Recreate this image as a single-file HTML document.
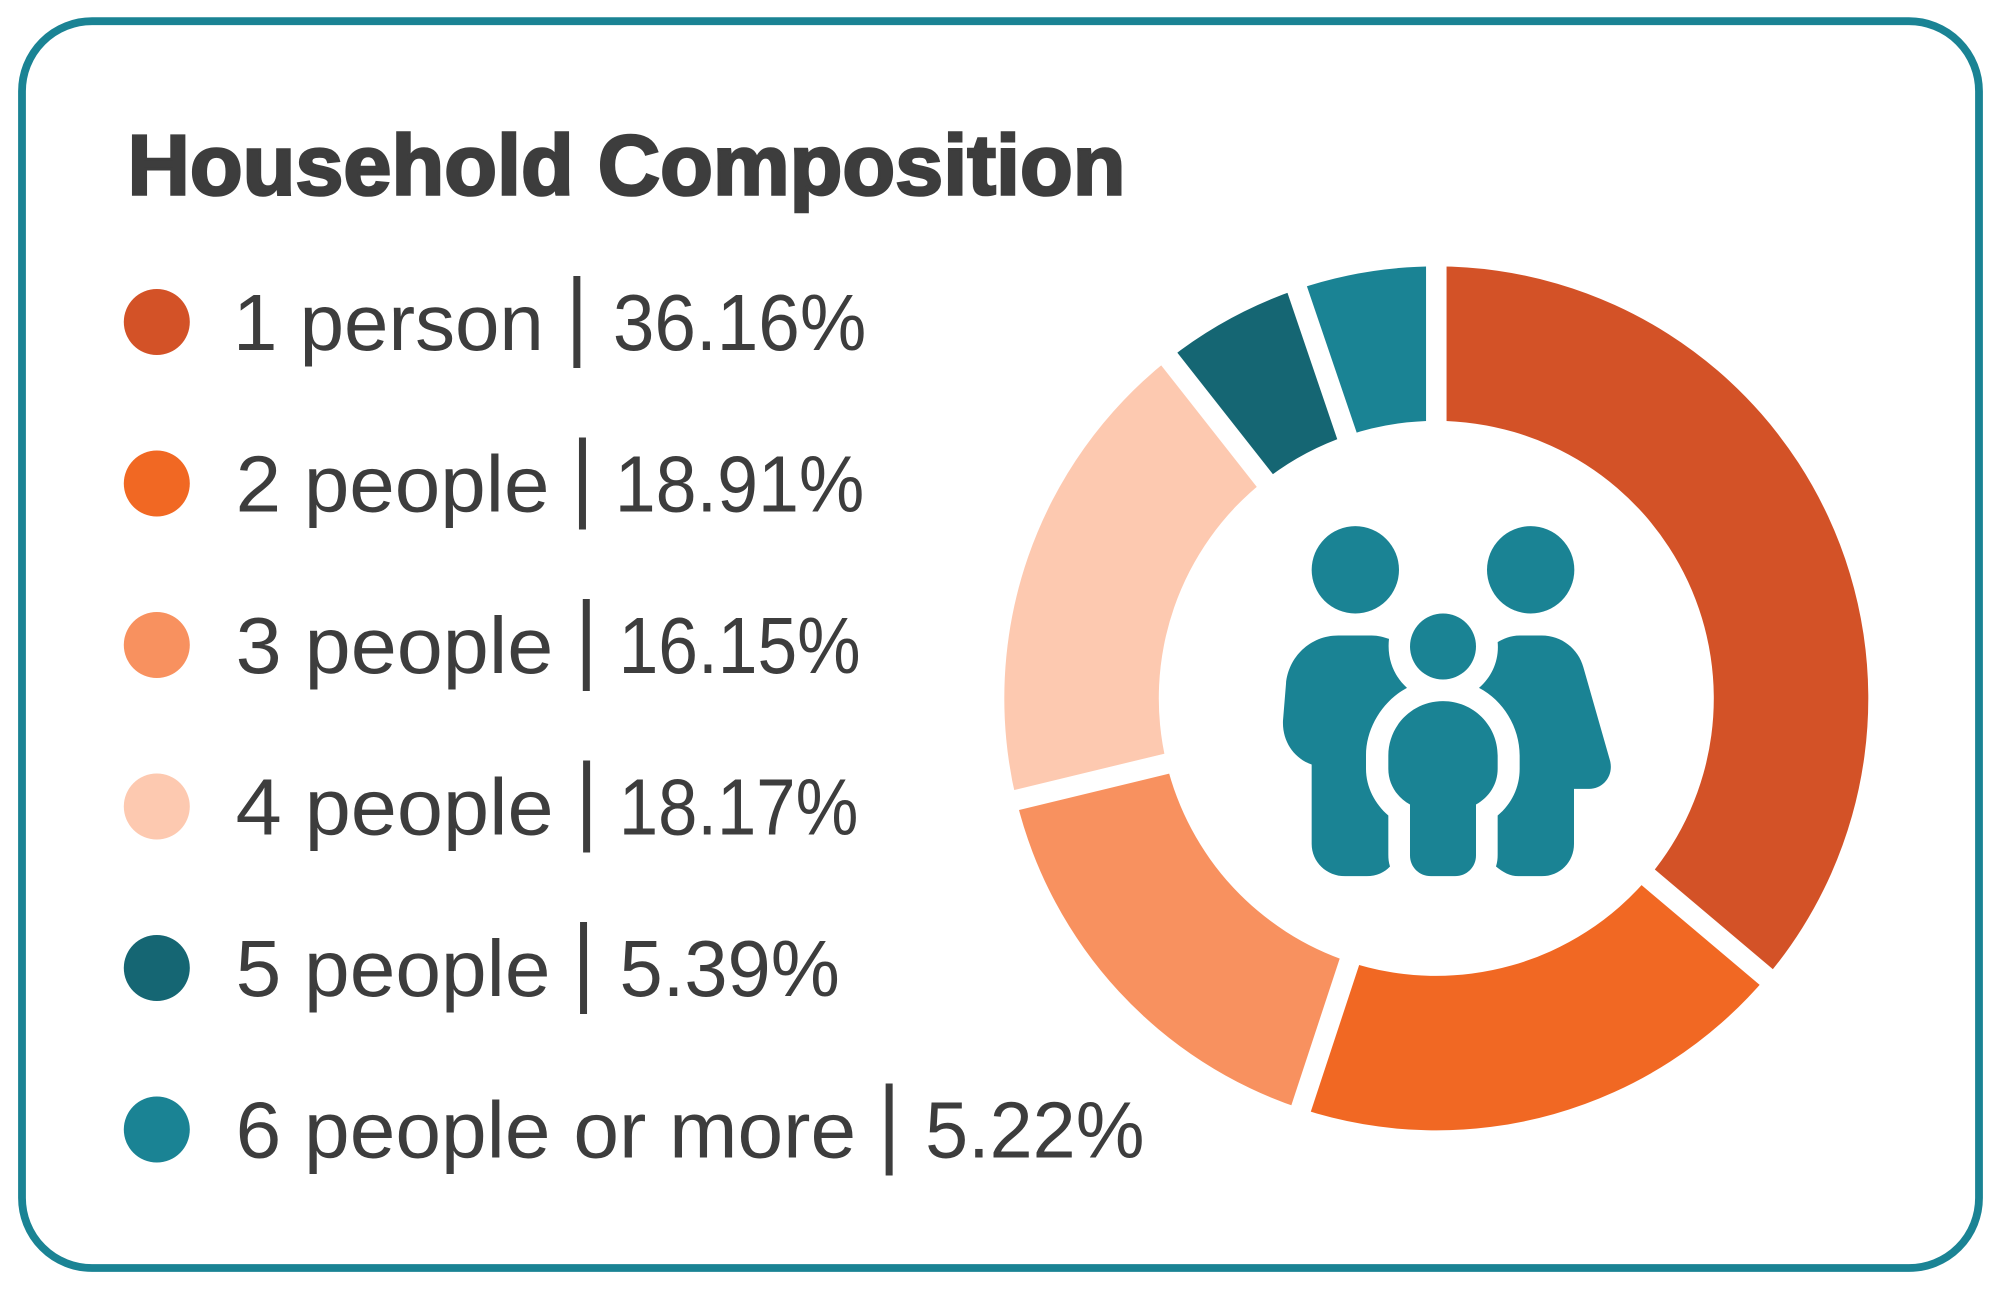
<!DOCTYPE html>
<html lang="en">
<head>
<meta charset="utf-8">
<title>Household Composition</title>
<style>
  html, body { margin: 0; padding: 0; background: #fff; }
  svg { display: block; }
  text { font-family: "Liberation Sans", sans-serif; fill: #3d3d3d; }
</style>
</head>
<body>
<svg id="chart" xmlns="http://www.w3.org/2000/svg" width="2001" height="1290" viewBox="0 0 2001 1290">
  <rect x="22" y="21.2" width="1957" height="1246.8" rx="70" ry="70" fill="#fff" stroke="#1a8394" stroke-width="7.8"></rect>
  <text x="127.5" y="194.7" font-size="85" font-weight="700" stroke="#3d3d3d" stroke-width="2.6" textLength="998" lengthAdjust="spacingAndGlyphs">Household Composition</text>
  <g id="legend"></g>
  <g id="donut"></g>
  <g transform="translate(1220 480.5) scale(0.33333)" fill="#1a8394">
    <circle cx="406" cy="268" r="131"></circle>
    <circle cx="932" cy="268" r="131"></circle>
    <circle cx="669" cy="498" r="99"></circle>
    <path d="M507 475C490 470 475 465 455 465H355C270 465 205 530 198 610L189 720C186 785 225 835 275 852V1090C275 1145 320 1187 375 1187H440C470 1187 495 1175 510 1158C506 1145 505 1135 505 1122V1005C465 970 438 920 438 865V825C438 740 490 660 561 622C525 590 500 540 507 475Z"></path>
    <path d="M833 485C850 475 870 465 900 465H965C1025 465 1075 505 1090 560L1170 840C1182 885 1150 925 1108 925H1062V1090C1062 1145 1020 1187 965 1187H895C870 1187 848 1175 828 1158C832 1145 833 1135 833 1122V1005C875 970 899 920 899 865V825C899 740 850 660 777 622C815 590 838 540 833 485Z"></path>
    <path d="M669 662C760 662 833 735 833 825V865C833 910 808 950 768 972V1125C768 1160 740 1187 705 1187H633C598 1187 570 1160 570 1125V972C530 950 505 910 505 865V825C505 735 578 662 669 662Z"></path>
  </g>
</svg>
<script>
const categories = ["1 person", "2 people", "3 people", "4 people", "5 people", "6 people or more"];
const shares = [36.16, 18.91, 16.15, 18.17, 5.39, 5.22];
const sliceColors = ["#d35227", "#f16823", "#f8915f", "#fdc9b0", "#156673", "#1a8394"];

const NS = "http://www.w3.org/2000/svg";
const cx = 1436.3, cy = 698.4, rOuter = 432, rInner = 277.5, gapWidth = 20.5;
const total = shares.reduce(function (a, b) { return a + b; }, 0);

function angleOf(share) { return share / total * 2 * Math.PI; }
function polar(r, a) { return [cx + r * Math.sin(a), cy - r * Math.cos(a)]; }

const donut = document.getElementById("donut");
const legend = document.getElementById("legend");

let running = 0;
shares.forEach(function (value, i) {
  const a0 = angleOf(running);
  const a1 = angleOf(running + value);
  running += value;
  const large = (a1 - a0) > Math.PI ? 1 : 0;
  const p0 = polar(rOuter, a0), p1 = polar(rOuter, a1), p2 = polar(rInner, a1), p3 = polar(rInner, a0);
  const slice = document.createElementNS(NS, "path");
  slice.setAttribute("d", "M" + p0[0] + " " + p0[1] + "A" + rOuter + " " + rOuter + " 0 " + large + " 1 " + p1[0] + " " + p1[1] +
    "L" + p2[0] + " " + p2[1] + "A" + rInner + " " + rInner + " 0 " + large + " 0 " + p3[0] + " " + p3[1] + "Z");
  slice.setAttribute("fill", sliceColors[i]);
  
  
  donut.appendChild(slice);
});

running = 0;
shares.forEach(function (value) {
  const a = angleOf(running);
  running += value;
  const s0 = polar(rInner - 15, a), s1 = polar(rOuter + 15, a);
  const gap = document.createElementNS(NS, "line");
  gap.setAttribute("x1", s0[0]);
  gap.setAttribute("y1", s0[1]);
  gap.setAttribute("x2", s1[0]);
  gap.setAttribute("y2", s1[1]);
  gap.setAttribute("stroke", "#fff");
  gap.setAttribute("stroke-width", gapWidth);
  
  
  donut.appendChild(gap);
});

const rowTop = 322, rowStep = 161.5, dotX = 156.8, dotR = 33, textX = 235.6, fontSize = 80;
const dividerGap = 33;
/* Horizontal type-fit multipliers: the fallback face is wider or narrower than the original per string. */
const labelFit = [0.9985, 1.0225, 1.035, 1.036, 1.026, 1.026];
const valueFit = [0.934, 0.92, 0.892, 0.8825, 0.971, 0.967];

categories.forEach(function (name, i) {
  const y = rowTop + i * rowStep;
  const baseline = y + 28;
  const valueText = shares[i].toFixed(2) + "%";

  const dot = document.createElementNS(NS, "circle");
  dot.setAttribute("cx", dotX);
  dot.setAttribute("cy", y);
  dot.setAttribute("r", dotR);
  dot.setAttribute("fill", sliceColors[i]);
  
  
  legend.appendChild(dot);

  const labelX = textX - (name.charAt(0) === "1" ? 2.6 : 0);
  const label = document.createElementNS(NS, "text");
  label.textContent = name;
  label.setAttribute("x", labelX);
  label.setAttribute("y", baseline);
  label.setAttribute("font-size", fontSize);
  
  
  legend.appendChild(label);
  const labelWidth = label.getComputedTextLength() * labelFit[i];
  label.setAttribute("textLength", labelWidth);
  label.setAttribute("lengthAdjust", "spacingAndGlyphs");

  const dividerX = labelX + labelWidth + dividerGap;
  const divider = document.createElementNS(NS, "line");
  divider.setAttribute("x1", dividerX);
  divider.setAttribute("x2", dividerX);
  divider.setAttribute("y1", y - 46);
  divider.setAttribute("y2", y + 46);
  divider.setAttribute("stroke", "#3d3d3d");
  divider.setAttribute("stroke-width", 7);
  
  
  legend.appendChild(divider);

  const valueGap = valueText.charAt(0) === "1" ? 32.3 : 36;
  const val = document.createElementNS(NS, "text");
  val.textContent = valueText;
  val.setAttribute("x", dividerX + valueGap);
  val.setAttribute("y", baseline);
  val.setAttribute("font-size", fontSize);
  
  
  legend.appendChild(val);
  val.setAttribute("textLength", val.getComputedTextLength() * valueFit[i]);
  val.setAttribute("lengthAdjust", "spacingAndGlyphs");
});
</script>
</body>
</html>
